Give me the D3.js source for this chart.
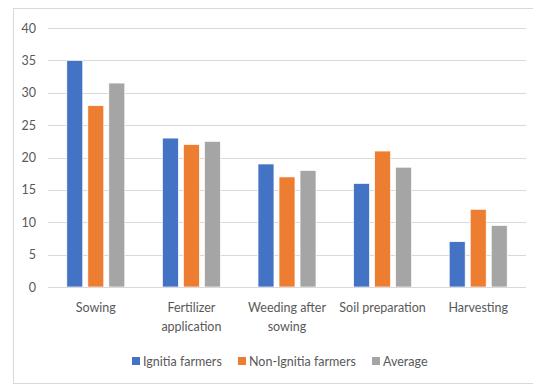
<!DOCTYPE html>
<html>
<head>
<meta charset="utf-8">
<script src="https://cdn.jsdelivr.net/npm/d3@7"></script>
<style>
  html, body { margin: 0; padding: 0; background: #fff; }
  svg { display: block; font-family: Lato, "Open Sans", sans-serif; }
</style>
</head>
<body>
<svg id="chart" width="533" height="385"></svg>
<script>
// Activities (two-line labels where the text wraps)
const categories = ["Sowing", "Fertilizer application", "Weeding after sowing", "Soil preparation", "Harvesting"];
const categoryLines = [["Sowing"], ["Fertilizer", "application"], ["Weeding after", "sowing"], ["Soil preparation"], ["Harvesting"]];
const seriesNames = ["Ignitia farmers", "Non-Ignitia farmers", "Average"];
const ignitia = [35, 23, 19, 16, 7];
const nonIgnitia = [28, 22, 17, 21, 12];
const average = [31.5, 22.5, 18, 18.5, 9.5];
const yTicks = [0, 5, 10, 15, 20, 25, 30, 35, 40];
const colors = ["#4472C4", "#ED7D31", "#A5A5A5"];

const seriesValues = [ignitia, nonIgnitia, average];
const svg = d3.select("#chart");

// Outer chart border
svg.append("rect")
  .attr("x", 13.5).attr("y", 8.5)
  .attr("width", 540).attr("height", 375)
  .attr("fill", "#fff").attr("stroke", "#d9d9d9").attr("stroke-width", 1);

const margin = { left: 48, right: 7, top: 28, bottom: 98 };
const W = 533, H = 385;

const x = d3.scaleBand().domain(categories).range([margin.left, W - margin.right]).paddingInner(0).paddingOuter(0);
const y = d3.scaleLinear().domain([0, 40]).range([H - margin.bottom, margin.top]);

const groupInner = d3.scaleBand().domain(seriesNames).range([0, 58]).paddingInner(0.24);

// Gridlines
svg.append("g")
  .selectAll("line")
  .data(yTicks)
  .join("line")
  .attr("x1", margin.left).attr("x2", W - margin.right)
  .attr("y1", d => Math.round(y(d)) + 0.5).attr("y2", d => Math.round(y(d)) + 0.5)
  .attr("stroke", "#d9d9d9").attr("stroke-width", 1);

// Y axis labels
const yAxis = d3.axisLeft(y).tickValues(yTicks).tickSize(0).tickPadding(0);
const yg = svg.append("g").attr("transform", `translate(${margin.left - 12},0)`).call(yAxis);
yg.select(".domain").remove();
yg.selectAll("text").attr("fill", "#595959").attr("font-size", 12.5).attr("font-family", "Lato, sans-serif");

// Bars
const groups = svg.append("g")
  .selectAll("g")
  .data(categories)
  .join("g")
  .attr("transform", (d) => `translate(${x(d) + x.bandwidth() / 2 - 29},0)`);

groups.selectAll("rect")
  .data((d, i) => seriesNames.map((s, j) => ({ s, j, v: seriesValues[j][i] })))
  .join("rect")
  .attr("x", d => groupInner(d.s))
  .attr("width", groupInner.bandwidth())
  .attr("y", d => y(d.v))
  .attr("height", d => y(0) - y(d.v))
  .attr("fill", d => colors[d.j])
  .attr("stroke", "#fff").attr("stroke-width", 0.7);

// Baseline
svg.append("line")
  .attr("x1", margin.left).attr("x2", W - margin.right)
  .attr("y1", Math.round(y(0)) + 0.5).attr("y2", Math.round(y(0)) + 0.5)
  .attr("stroke", "#d9d9d9");

// Category labels
const cat = svg.append("g")
  .selectAll("text")
  .data(categories)
  .join("text")
  .attr("x", d => x(d) + x.bandwidth() / 2)
  .attr("y", 312)
  .attr("text-anchor", "middle")
  .attr("fill", "#595959")
  .attr("font-size", 12.5);
cat.each(function (d, i) {
  d3.select(this).selectAll("tspan")
    .data(categoryLines[i])
    .join("tspan")
    .attr("x", x(d) + x.bandwidth() / 2)
    .attr("dy", (t, k) => k === 0 ? 0 : 19)
    .text(t => t);
});

// Legend
const legendX = [132, 238, 372];
const legend = svg.append("g")
  .selectAll("g")
  .data(seriesNames)
  .join("g")
  .attr("transform", (d, i) => `translate(${legendX[i]},357)`);
legend.append("rect").attr("width", 8).attr("height", 8).attr("fill", (d, i) => colors[i]);
legend.append("text")
  .attr("x", 11).attr("y", 8.5)
  .attr("fill", "#595959").attr("font-size", 12.5)
  .text(d => d);
</script>
</body>
</html>
